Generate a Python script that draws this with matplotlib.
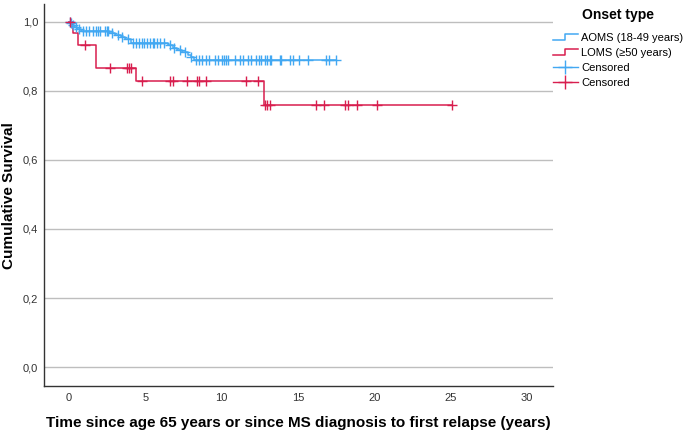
import numpy as np
import matplotlib
matplotlib.use("Agg")
import matplotlib.pyplot as plt
from matplotlib.lines import Line2D
from matplotlib.legend_handler import HandlerBase
from matplotlib.ticker import FuncFormatter

plt.rcParams['font.family'] = ['Liberation Sans', 'DejaVu Sans']

# Kaplan-Meier steps
aoms_t = [0, 0.1, 0.2, 0.35, 0.5, 0.8, 2.6, 3.0, 3.4, 3.7, 4.1, 6.5, 6.8, 7.1, 7.4, 7.8, 8.0, 8.2, 17.5]
aoms_s = [1.0, 0.995, 0.99, 0.985, 0.98, 0.972, 0.966, 0.961, 0.955, 0.949, 0.939,
          0.932, 0.925, 0.918, 0.911, 0.904, 0.897, 0.889, 0.889]
aoms_cens = [0.05, 0.15, 0.3, 0.45, 0.65, 0.94, 1.11, 1.33, 1.55, 1.77, 1.92, 2.07, 2.36, 2.47,
             2.57, 2.8, 3.2, 3.5, 3.9, 4.2, 4.4, 4.6, 4.8, 4.9, 5.1, 5.3, 5.5, 5.6, 5.8, 6.0,
             6.2, 6.6, 6.9, 7.3, 7.6, 8.0, 8.3, 8.5, 8.7, 9.0, 9.2, 9.6, 9.8, 10.0, 10.15,
             10.3, 10.43, 10.87, 11.24, 11.4, 11.74, 11.96, 12.24, 12.44, 12.6, 12.83, 12.98,
             13.16, 13.27, 13.8, 13.87, 14.47, 14.65, 15.1, 15.67, 16.83, 17.05, 17.49]

loms_t = [0, 0.3, 0.6, 1.8, 4.4, 12.8, 25.1]
loms_s = [1.0, 0.967, 0.933, 0.867, 0.829, 0.760, 0.760]
loms_cens = [0.1, 1.05, 2.7, 3.8, 3.95, 4.1, 4.8, 6.6, 6.8, 7.75, 8.4, 8.5, 9.0, 11.6, 12.4,
             12.85, 12.95, 13.2, 16.2, 16.7, 18.1, 18.3, 18.9, 20.2, 25.1]

labels = ["AOMS (18-49 years)", "LOMS (\u226550 years)", "Censored", "Censored"]
blue = '#42A8F2'
red = '#D81E4E'


def surv_at(t, times, surv):
    idx = np.searchsorted(times, t, side='right') - 1
    return np.array(surv)[idx]


class StepHandler(HandlerBase):
    def create_artists(self, legend, orig_handle, xdescent, ydescent, width, height, fontsize, trans):
        xs = np.array([0, 0.5, 0.5, 1.0]) * width - xdescent
        ys = np.array([0.15, 0.15, 0.85, 0.85]) * height - ydescent
        ln = Line2D(xs, ys, color=orig_handle.get_color(), lw=1.1)
        ln.set_transform(trans)
        return [ln]


fig = plt.figure(figsize=(6.85, 4.32), dpi=100)
ax = fig.add_axes([0.064, 0.106, 0.743, 0.884])

ax.step(aoms_t, aoms_s, where='post', color=blue, lw=1.1)
ax.step(loms_t, loms_s, where='post', color=red, lw=1.1)
ax.plot(aoms_cens, surv_at(aoms_cens, aoms_t, aoms_s), ls='none', marker='+',
        color=blue, ms=7, mew=1.0)
ax.plot(loms_cens, surv_at(loms_cens, loms_t, loms_s), ls='none', marker='+',
        color=red, ms=7, mew=1.0)

ax.set_xlim(-1.64, 31.7)
ax.set_ylim(-0.055, 1.05)
ax.set_xticks(range(0, 31, 5))
ax.set_yticks(np.arange(0, 1.01, 0.2))
ax.yaxis.set_major_formatter(FuncFormatter(lambda v, p: f"{v:.1f}".replace('.', ',')))
ax.tick_params(length=0, labelsize=8, colors='#333333')
ax.tick_params(axis='x', pad=5)
ax.tick_params(axis='y', pad=4)
ax.grid(axis='y', color='#BEBEBE', lw=1.0)
ax.set_axisbelow(True)
for s in ['top', 'right']:
    ax.spines[s].set_visible(False)
for s in ['left', 'bottom']:
    ax.spines[s].set_color('#333333')
    ax.spines[s].set_linewidth(1.0)

ax.set_xlabel("Time since age 65 years or since MS diagnosis to first relapse (years)",
              fontsize=11, fontweight='bold', labelpad=9)
ax.set_ylabel("Cumulative Survival", fontsize=11, fontweight='bold', labelpad=5)

h_a = Line2D([], [], color=blue)
h_l = Line2D([], [], color=red)
h_ca = Line2D([], [], color=blue, marker='+', ms=10, mew=1.0, lw=1.0)
h_cl = Line2D([], [], color=red, marker='+', ms=10, mew=1.0, lw=1.0)
leg = fig.legend([h_a, h_l, h_ca, h_cl], labels, loc='upper left',
                 bbox_to_anchor=(0.793, 1.005), frameon=False, fontsize=8,
                 title="Onset type", title_fontproperties={'weight': 'bold', 'size': 10},
                 handlelength=2.2, handletextpad=0.3, labelspacing=0.45,
                 handler_map={h_a: StepHandler(), h_l: StepHandler()})
leg._legend_box.sep = 8

fig.savefig("out.png", dpi=100)
